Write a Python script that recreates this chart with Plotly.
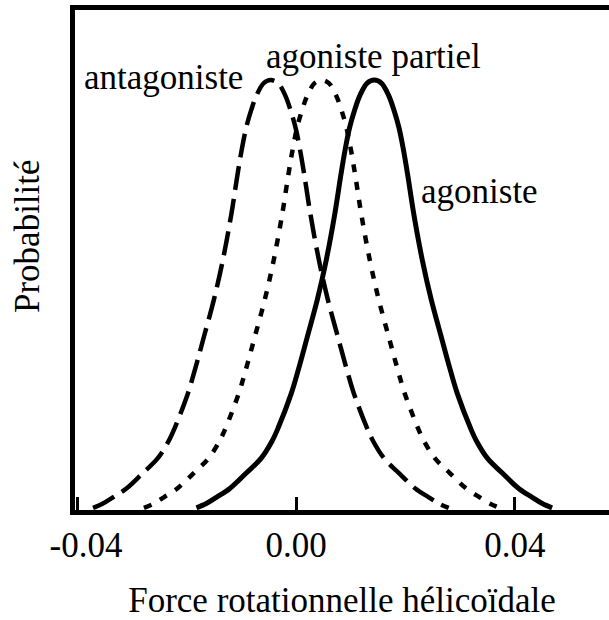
import plotly.graph_objects as go

# Curves (x: force, y: relative probability, peak = 1)
x_antagoniste = [-0.0371, -0.0353, -0.0334, -0.0310, -0.0280, -0.0253, -0.0233, -0.0222,
                 -0.0198, -0.0184, -0.0169, -0.0150, -0.0134, -0.0118, -0.0107, -0.0099,
                 -0.0091, -0.0082, -0.0072, -0.0059, -0.0046,
                 -0.0033, -0.0020, -0.0010, -0.0001, 0.0007, 0.0015, 0.0026, 0.0042,
                 0.0058, 0.0077, 0.0092, 0.0106, 0.0130, 0.0141, 0.0161, 0.0188,
                 0.0218, 0.0242, 0.0261, 0.0279]
y_antagoniste = [0.005, 0.015, 0.03, 0.05, 0.086, 0.12, 0.16, 0.19, 0.27, 0.33, 0.40,
                 0.49, 0.58, 0.69, 0.78, 0.84, 0.89, 0.93, 0.965, 0.993, 1.0,
                 0.993, 0.965, 0.93, 0.89, 0.84, 0.78, 0.69, 0.58, 0.49, 0.40,
                 0.33, 0.27, 0.19, 0.16, 0.12, 0.086, 0.05, 0.03, 0.015, 0.005]

x_partiel = [-0.0278, -0.0260, -0.0241, -0.0217, -0.0187, -0.0160, -0.0140, -0.0129,
             -0.0105, -0.0091, -0.0076, -0.0057, -0.0041, -0.0025, -0.0014, -0.0006,
             0.0002, 0.0011, 0.0021, 0.0034, 0.0047,
             0.0060, 0.0073, 0.0083, 0.0092, 0.0100, 0.0108, 0.0119, 0.0135,
             0.0151, 0.0170, 0.0185, 0.0199, 0.0223, 0.0234, 0.0254, 0.0281,
             0.0311, 0.0335, 0.0354, 0.0372]
y_partiel = [0.005, 0.015, 0.03, 0.05, 0.086, 0.12, 0.16, 0.19, 0.27, 0.33, 0.40,
             0.49, 0.58, 0.69, 0.78, 0.84, 0.89, 0.93, 0.965, 0.993, 1.0,
             0.993, 0.965, 0.93, 0.89, 0.84, 0.78, 0.69, 0.58, 0.49, 0.40,
             0.33, 0.27, 0.19, 0.16, 0.12, 0.086, 0.05, 0.03, 0.015, 0.005]

x_agoniste = [-0.0182, -0.0164, -0.0145, -0.0121, -0.0091, -0.0064, -0.0044, -0.0033,
              -0.0009, 0.0005, 0.0020, 0.0039, 0.0055, 0.0071, 0.0082, 0.0090,
              0.0098, 0.0107, 0.0117, 0.0130, 0.0143,
              0.0156, 0.0169, 0.0179, 0.0188, 0.0196, 0.0204, 0.0215, 0.0231,
              0.0247, 0.0266, 0.0281, 0.0295, 0.0319, 0.0330, 0.0350, 0.0377,
              0.0407, 0.0431, 0.0450, 0.0468]
y_agoniste = [0.005, 0.015, 0.03, 0.05, 0.086, 0.12, 0.16, 0.19, 0.27, 0.33, 0.40,
              0.49, 0.58, 0.69, 0.78, 0.84, 0.89, 0.93, 0.965, 0.993, 1.0,
              0.993, 0.965, 0.93, 0.89, 0.84, 0.78, 0.69, 0.58, 0.49, 0.40,
              0.33, 0.27, 0.19, 0.16, 0.12, 0.086, 0.05, 0.03, 0.015, 0.005]

tick_values = [-0.04, 0.0, 0.04]
tick_labels = ["\u2002-0.04", "0.00", "0.04"]

FONT = "Liberation Serif, Times New Roman, serif"
FS = 35

fig = go.Figure()
fig.add_trace(go.Scatter(x=x_antagoniste, y=y_antagoniste, mode="lines",
                         line=dict(color="black", width=4.5, dash="24px,9px", shape="spline", smoothing=1),
                         name="antagoniste", hoverinfo="skip"))
fig.add_trace(go.Scatter(x=x_partiel, y=y_partiel, mode="lines",
                         line=dict(color="black", width=4.5, dash="8px,10px", shape="spline", smoothing=1),
                         name="agoniste partiel", hoverinfo="skip"))
fig.add_trace(go.Scatter(x=x_agoniste, y=y_agoniste, mode="lines",
                         line=dict(color="black", width=5, shape="spline", smoothing=1),
                         name="agoniste", hoverinfo="skip"))

fig.update_layout(
    width=609, height=620,
    margin=dict(l=75, r=0, t=10, b=110),
    paper_bgcolor="white", plot_bgcolor="white",
    showlegend=False,
    font=dict(family=FONT, color="black", size=FS),
    xaxis=dict(range=[-0.0404, 0.0572], showgrid=False, zeroline=False,
               showline=True, linecolor="black", linewidth=5, mirror=True,
               ticks="inside", ticklen=13, tickwidth=3, tickcolor="black",
               tickvals=tick_values, ticktext=tick_labels,
               tickfont=dict(family=FONT, size=FS, color="black"),
               title=dict(text="Force rotationnelle hélicoïdale",
                          font=dict(family=FONT, size=FS, color="black"), standoff=28)),
    yaxis=dict(range=[0, 1.163], showgrid=False, zeroline=False,
               showline=True, linecolor="black", linewidth=5,
               ticks="", showticklabels=False),
    annotations=[
        dict(text="Probabilité", xref="paper", yref="paper", x=-0.088, y=0.548,
             textangle=-90, showarrow=False, xanchor="center", yanchor="middle",
             font=dict(family=FONT, size=FS, color="black")),
        dict(text="antagoniste", xref="x", yref="y", x=-0.0242, y=1.007,
             showarrow=False, xanchor="center", yanchor="middle",
             font=dict(family=FONT, size=FS, color="black")),
        dict(text="agoniste partiel", xref="x", yref="y", x=0.0141, y=1.055,
             showarrow=False, xanchor="center", yanchor="middle",
             font=dict(family=FONT, size=FS, color="black")),
        dict(text="agoniste", xref="x", yref="y", x=0.0336, y=0.74,
             showarrow=False, xanchor="center", yanchor="middle",
             font=dict(family=FONT, size=FS, color="black")),
    ],
)

fig.write_html("out.html",
               config={"displayModeBar": False},
               post_script="document.body.style.margin='0';document.body.style.overflow='hidden';")
